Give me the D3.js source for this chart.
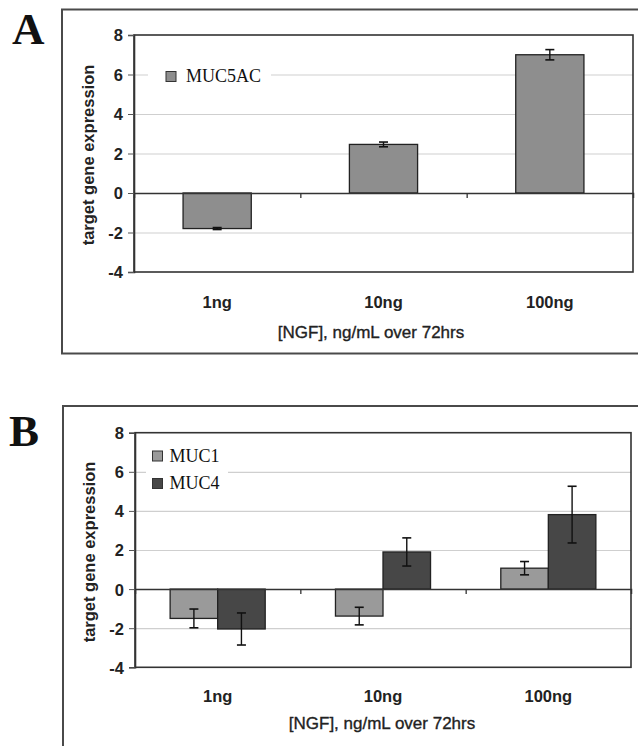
<!DOCTYPE html>
<html>
<head>
<meta charset="utf-8">
<script src="https://cdn.jsdelivr.net/npm/d3@7"></script>
<style>
  html, body { margin: 0; padding: 0; background: #fff; }
  svg { display: block; }
</style>
</head>
<body>
<svg id="chart" width="638" height="746"></svg>
<script>
// ---- data ----
const categories = ["1ng", "10ng", "100ng"];
const yTicks = [-4, -2, 0, 2, 4, 6, 8];
const yDomain = [-4, 8];
const xTitle = "[NGF], ng/mL over 72hrs";
const yTitle = "target gene expression";

const panelASeries = ["MUC5AC"];
const muc5acValues = [-1.8, 2.46, 7.0];
const muc5acErrors = [0.05, 0.12, 0.26];

const panelBSeries = ["MUC1", "MUC4"];
const muc1Values = [-1.5, -1.38, 1.07];
const muc1Errors = [0.48, 0.45, 0.34];
const muc4Values = [-2.04, 1.9, 3.81];
const muc4Errors = [0.82, 0.72, 1.45];

// ---- layout / style ----
const svg = d3.select("#chart");
const sans = "'Liberation Sans', Arial, sans-serif";
const serif = "'Liberation Serif', 'Times New Roman', serif";

function drawPanel(cfg) {
  const g = svg.append("g");
  // outer frame
  g.append("rect")
    .attr("x", cfg.frame[0]).attr("y", cfg.frame[1])
    .attr("width", cfg.frame[2]).attr("height", cfg.frame[3])
    .attr("fill", "none").attr("stroke", "#4a4a4a").attr("stroke-width", 2);
  // panel letter
  g.append("text").attr("x", cfg.letterPos[0]).attr("y", cfg.letterPos[1])
    .attr("font-family", serif).attr("font-weight", "bold").attr("font-size", 45)
    .attr("fill", "#111").text(cfg.letter);

  const [L, T, R, B] = cfg.plot;
  const y = d3.scaleLinear().domain(yDomain).range([B, T]);
  const x0 = d3.scaleBand().domain(categories).range([L, R]).padding(0);
  const bw = x0.bandwidth();
  const f = cfg.groupFrac;
  const x1 = d3.scaleBand().domain(cfg.series.map(s => s.name))
    .range([bw * (1 - f) / 2, bw * (1 + f) / 2]).padding(0);

  // gridlines
  g.append("g").attr("transform", `translate(${L},0)`)
    .call(d3.axisLeft(y).tickValues(yTicks.filter(v => v !== 0 && v !== yDomain[1] && v !== yDomain[0]))
      .tickSize(-(R - L)).tickFormat(""))
    .call(a => a.select(".domain").remove())
    .call(a => a.selectAll("line").attr("stroke", "#cfcfcf").attr("stroke-width", 1.2));

  // legend background (white box hides gridlines)
  g.append("rect").attr("x", cfg.legend.bg[0]).attr("y", cfg.legend.bg[1])
    .attr("width", cfg.legend.bg[2]).attr("height", cfg.legend.bg[3]).attr("fill", "#fff");

  // bars
  cfg.series.forEach(s => {
    const sg = g.append("g");
    sg.selectAll("rect").data(categories.map((c, i) => ({ c, v: s.values[i], e: s.errors[i] })))
      .join("rect")
      .attr("x", d => x0(d.c) + x1(s.name))
      .attr("width", x1.bandwidth())
      .attr("y", d => y(Math.max(0, d.v)))
      .attr("height", d => Math.abs(y(d.v) - y(0)))
      .attr("fill", s.color).attr("stroke", "#222").attr("stroke-width", 1.3);
    // error bars
    const eg = sg.selectAll("g.err").data(categories.map((c, i) => ({ c, v: s.values[i], e: s.errors[i] })))
      .join("g").attr("class", "err");
    const cx = d => x0(d.c) + x1(s.name) + x1.bandwidth() / 2;
    eg.append("line").attr("x1", cx).attr("x2", cx)
      .attr("y1", d => y(d.v + d.e)).attr("y2", d => y(d.v - d.e))
      .attr("stroke", "#111").attr("stroke-width", 1.4);
    [1, -1].forEach(sign => {
      eg.append("line").attr("x1", d => cx(d) - cfg.cap).attr("x2", d => cx(d) + cfg.cap)
        .attr("y1", d => y(d.v + sign * d.e)).attr("y2", d => y(d.v + sign * d.e))
        .attr("stroke", "#111").attr("stroke-width", 1.6);
    });
  });

  // zero line with category boundary ticks
  g.append("g").attr("transform", `translate(0,${y(0)})`)
    .call(d3.axisBottom(d3.scaleLinear().domain([L, R]).range([L, R]))
      .tickValues(categories.slice(1).map(c => x0(c))).tickSize(5).tickFormat(""))
    .call(a => a.select(".domain").attr("stroke", "#333").attr("stroke-width", 1.5))
    .call(a => a.selectAll("line").attr("stroke", "#333").attr("stroke-width", 1.3));

  // plot border
  g.append("rect").attr("x", L).attr("y", T).attr("width", R - L).attr("height", B - T)
    .attr("fill", "none").attr("stroke", "#333").attr("stroke-width", 1.6);

  // y axis
  g.append("g").attr("transform", `translate(${L},0)`)
    .call(d3.axisLeft(y).tickValues(yTicks).tickSize(6).tickPadding(5).tickFormat(d3.format("d")))
    .call(a => a.select(".domain").attr("stroke", "#333").attr("stroke-width", 1.6))
    .call(a => a.selectAll("line").attr("stroke", "#555").attr("stroke-width", 1))
    .call(a => a.selectAll("text").attr("font-family", sans).attr("font-weight", "bold")
      .attr("font-size", 16.5).attr("fill", "#222").attr("dy", "0.36em")
      .text(d => d < 0 ? "-" + Math.abs(d) : d));

  // category labels
  g.append("g").attr("transform", `translate(0,${cfg.catY})`)
    .call(d3.axisBottom(x0).tickSize(0).tickPadding(0))
    .call(a => a.select(".domain").remove())
    .call(a => a.selectAll("text").attr("font-family", sans).attr("font-weight", "bold")
      .attr("font-size", 16.5).attr("fill", "#222").attr("dy", 0));

  // x title
  g.append("text").attr("x", cfg.xTitlePos[0]).attr("y", cfg.xTitlePos[1])
    .attr("text-anchor", "middle").attr("font-family", sans).attr("font-size", 17)
    .attr("fill", "#222").attr("stroke", "#222").attr("stroke-width", 0.35).text(xTitle);
  // y title
  g.append("text").attr("transform", `translate(${cfg.yTitlePos[0]},${cfg.yTitlePos[1]}) rotate(-90)`)
    .attr("text-anchor", "middle").attr("font-family", sans).attr("font-weight", "bold")
    .attr("font-size", 16.5).attr("fill", "#222").text(yTitle);

  // legend
  cfg.series.forEach((s, i) => {
    const ly = cfg.legend.y0 + i * cfg.legend.dy;
    g.append("rect").attr("x", cfg.legend.x).attr("y", ly - 10.5).attr("width", 10).attr("height", 10)
      .attr("fill", s.color).attr("stroke", "#333").attr("stroke-width", 1);
    g.append("text").attr("x", cfg.legend.x + cfg.legend.tx).attr("y", ly)
      .attr("font-family", serif).attr("font-size", 18).attr("fill", "#111").text(s.name);
  });
}

drawPanel({
  letter: "A", letterPos: [12, 44],
  frame: [62, 9.5, 590, 344],
  plot: [134, 35, 633, 272],
  groupFrac: 0.41, cap: 4.5,
  series: [{ name: panelASeries[0], values: muc5acValues, errors: muc5acErrors, color: "#8e8e8e" }],
  legend: { x: 166, y0: 82, dy: 0, tx: 20, bg: [148, 60, 123, 32] },
  catY: 308, xTitlePos: [371, 338], yTitlePos: [94, 155]
});

drawPanel({
  letter: "B", letterPos: [9, 446],
  frame: [63, 406, 590, 360],
  plot: [135, 432.7, 631, 667.3],
  groupFrac: 0.575, cap: 4.5,
  series: [
    { name: panelBSeries[0], values: muc1Values, errors: muc1Errors, color: "#9a9a9a" },
    { name: panelBSeries[1], values: muc4Values, errors: muc4Errors, color: "#474747" }
  ],
  legend: { x: 152.5, y0: 461.5, dy: 27.5, tx: 17, bg: [146, 440, 82, 56] },
  catY: 702, xTitlePos: [382, 729], yTitlePos: [95, 552]
});
</script>
</body>
</html>
